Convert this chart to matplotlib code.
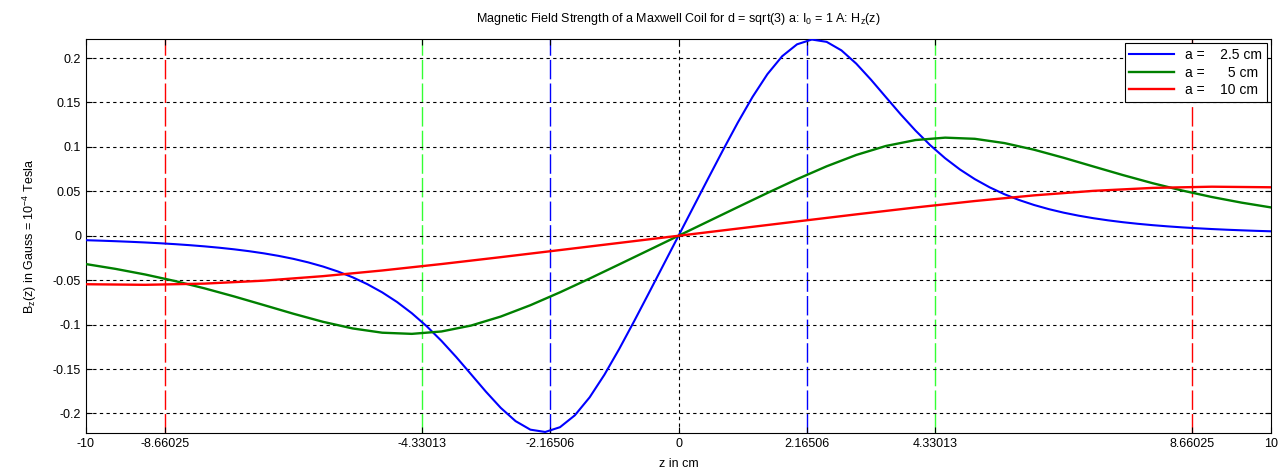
import numpy as np
import matplotlib.pyplot as plt

plt.rcParams['font.family'] = ['Liberation Sans', 'DejaVu Sans']
plt.rcParams['mathtext.fontset'] = 'custom'
plt.rcParams['mathtext.rm'] = 'Liberation Sans'
plt.rcParams['mathtext.it'] = 'Liberation Sans'

# a = 2.5 cm, z step 0.25 cm
z_blue = np.linspace(-10, 10, 81)
b_blue = [-0.00501, -0.00553, -0.00613, -0.00680, -0.00756, -0.00844, -0.00944, -0.01060,
          -0.01193, -0.01347, -0.01525, -0.01734, -0.01977, -0.02263, -0.02598, -0.02995,
          -0.03463, -0.04017, -0.04674, -0.05453, -0.06374, -0.07457, -0.08722, -0.10181,
          -0.11834, -0.13659, -0.15597, -0.17550, -0.19368, -0.20860, -0.21822, -0.22083,
          -0.21544, -0.20210, -0.18186, -0.15633, -0.12731, -0.09631, -0.06442, -0.03223,
          0.0,
          0.03223, 0.06442, 0.09631, 0.12731, 0.15633, 0.18186, 0.20210, 0.21544,
          0.22083, 0.21822, 0.20860, 0.19368, 0.17550, 0.15597, 0.13659, 0.11834,
          0.10181, 0.08722, 0.07457, 0.06374, 0.05453, 0.04674, 0.04017, 0.03463,
          0.02995, 0.02598, 0.02263, 0.01977, 0.01734, 0.01525, 0.01347, 0.01193,
          0.01060, 0.00944, 0.00844, 0.00756, 0.00680, 0.00613, 0.00553, 0.00501]

# a = 5 cm, z step 0.5 cm
z_green = np.linspace(-10, 10, 41)
b_green = [-0.03187, -0.03729, -0.04361, -0.05091, -0.05917, -0.06829, -0.07798, -0.08775,
           -0.09684, -0.10430, -0.10911, -0.11041, -0.10772, -0.10105, -0.09093, -0.07817,
           -0.06365, -0.04816, -0.03221, -0.01612,
           0.0,
           0.01612, 0.03221, 0.04816, 0.06365, 0.07817, 0.09093, 0.10105, 0.10772,
           0.11041, 0.10911, 0.10430, 0.09684, 0.08775, 0.07798, 0.06829, 0.05917,
           0.05091, 0.04361, 0.03729, 0.03187]

# a = 10 cm, z step 1 cm
z_red = np.linspace(-10, 10, 21)
b_red = [-0.05456, -0.05521, -0.05386, -0.05053, -0.04546, -0.03908, -0.03183, -0.02408,
         -0.01610, -0.00806, 0.0, 0.00806, 0.01610, 0.02408, 0.03183, 0.03908, 0.04546,
         0.05053, 0.05386, 0.05521, 0.05456]

labels = ['a =    2.5 cm', 'a =      5 cm', 'a =    10 cm']
xticks = [-10, -8.66025, -4.33013, -2.16506, 0, 2.16506, 4.33013, 8.66025, 10]
xticklabels = ['-10', '-8.66025', '-4.33013', '-2.16506', '0', '2.16506', '4.33013', '8.66025', '10']
yticks = [-0.2, -0.15, -0.1, -0.05, 0, 0.05, 0.1, 0.15, 0.2]
ytick_labels = ['-0.2', '-0.15', '-0.1', '-0.05', '0', '0.05', '0.1', '0.15', '0.2']
marks = [(2.16506, 'blue'), (4.33013, '#33ff33'), (8.66025, 'red')]

fig = plt.figure(figsize=(12.83, 4.76), dpi=100)
ax = fig.add_axes([0.067, 0.0903, 0.9237, 0.8277])

for x, c in marks:
    for s in (-1, 1):
        ax.axvline(s * x, color=c, lw=1, dashes=(14, 3), zorder=1)
ax.axvline(0, color='black', lw=0.8, dashes=(3, 3), zorder=1)

ax.plot(z_blue, b_blue, color='blue', lw=1.5, label=labels[0], zorder=3)
ax.plot(z_green, b_green, color='#008000', lw=1.7, label=labels[1], zorder=3)
ax.plot(z_red, b_red, color='red', lw=1.7, label=labels[2], zorder=3)

ax.set_xlim(-10, 10)
ax.set_ylim(-0.222, 0.2214)
ax.set_xticks(xticks)
ax.set_xticklabels(xticklabels)
ax.set_yticks(yticks)
ax.set_yticklabels(ytick_labels)
ax.yaxis.grid(True, color='black', lw=0.8, dashes=(3, 3))
ax.tick_params(direction='in', top=True, right=True, labelsize=9, length=4)
for sp in ax.spines.values():
    sp.set_linewidth(0.8)

ax.set_title(r'Magnetic Field Strength of a Maxwell Coil for d = sqrt(3) a: I$_0$ = 1 A: H$_z$(z)',
             fontsize=9, pad=12)
ax.set_xlabel('z in cm', fontsize=9, labelpad=6)
ax.set_ylabel(r'B$_z$(z) in Gauss = 10$^{-4}$ Tesla', fontsize=9, labelpad=10)

leg = ax.legend(loc='upper right', fontsize=10, fancybox=False, framealpha=1,
                edgecolor='black', handlelength=3.2, borderaxespad=0.3,
                labelspacing=0.25, borderpad=0.35)
leg.get_frame().set_linewidth(0.8)

fig.savefig('out.png', dpi=100)
